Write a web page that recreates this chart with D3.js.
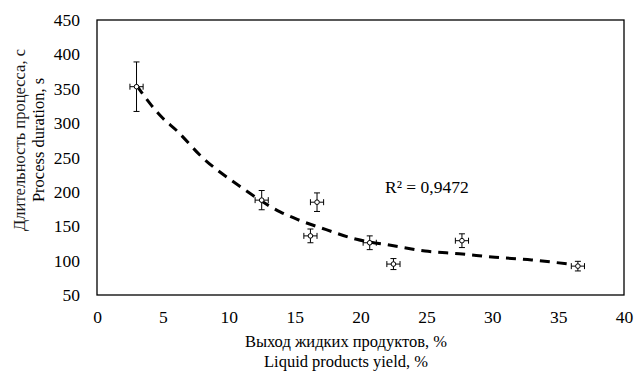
<!DOCTYPE html>
<html><head><meta charset="utf-8">
<script src="https://cdn.jsdelivr.net/npm/d3@7"></script>
<style>body{margin:0;background:#fff;} text{font-family:"Liberation Serif","Times New Roman",serif;}</style>
</head><body><svg id="c" width="635" height="372"></svg>
<script>
// data
const yieldX = [3.0, 12.5, 16.7, 16.2, 20.7, 22.5, 27.7, 36.5];
const durationY = [353, 188, 185, 136, 126, 95, 129, 92];
const errY = [36, 14, 13.5, 10, 10, 8, 10, 7];
const errX = [0.5, 0.5, 0.5, 0.5, 0.5, 0.5, 0.5, 0.5];
const trendX = [3, 4, 5, 6, 8, 10.7, 13.9, 15.2, 17.4, 19.7, 22.4, 24.9, 27.5, 30.2, 33, 35.8];
const trendY = [355, 329, 307, 290, 250, 210, 171, 160, 145, 131, 122, 114, 110, 105, 101, 95];
const xTicks = [0, 5, 10, 15, 20, 25, 30, 35, 40];
const yTicks = [50, 100, 150, 200, 250, 300, 350, 400, 450];
const r2Label = "R² = 0,9472";

const svg = d3.select("#c");
const L = 97, R = 624, T = 20, B = 295;
const x = d3.scaleLinear().domain([0, 40]).range([L, R]);
const y = d3.scaleLinear().domain([50, 450]).range([B, T]);

// axes (labels only)
const xa = svg.append("g").attr("transform", `translate(0,${B})`)
  .call(d3.axisBottom(x).tickValues(xTicks).tickSize(0).tickPadding(16));
xa.select(".domain").remove();
xa.selectAll("text").attr("font-size", 17.5).attr("fill", "#000").style("font-family", "Liberation Serif");
const ya = svg.append("g").attr("transform", `translate(${L},0)`)
  .call(d3.axisLeft(y).tickValues(yTicks).tickSize(0).tickPadding(17));
ya.select(".domain").remove();
ya.selectAll("text").attr("font-size", 17.5).attr("fill", "#000").style("font-family", "Liberation Serif");

// plot frame
svg.append("rect").attr("x", L).attr("y", T).attr("width", R - L).attr("height", B - T)
  .attr("fill", "none").attr("stroke", "#000").attr("stroke-width", 1.3);

// trend line
const pts = trendX.map((d, i) => [d, trendY[i]]);
svg.append("path").datum(pts)
  .attr("d", d3.line().x(d => x(d[0])).y(d => y(d[1])).curve(d3.curveMonotoneX))
  .attr("fill", "none").attr("stroke", "#000").attr("stroke-width", 3)
  .attr("stroke-dasharray", "10,7");

// error bars + points
const g = svg.append("g").attr("stroke", "#000").attr("stroke-width", 1);
yieldX.forEach((xv, i) => {
  const cx = x(xv), cy = y(durationY[i]);
  const y1 = y(durationY[i] + errY[i]), y2 = y(durationY[i] - errY[i]);
  const x1 = x(xv - errX[i]), x2 = x(xv + errX[i]);
  g.append("line").attr("x1", cx).attr("x2", cx).attr("y1", y1).attr("y2", y2);
  g.append("line").attr("x1", cx - 3).attr("x2", cx + 3).attr("y1", y1).attr("y2", y1);
  g.append("line").attr("x1", cx - 3).attr("x2", cx + 3).attr("y1", y2).attr("y2", y2);
  g.append("line").attr("x1", x1).attr("x2", x2).attr("y1", cy).attr("y2", cy);
  g.append("line").attr("x1", x1).attr("x2", x1).attr("y1", cy - 3).attr("y2", cy + 3);
  g.append("line").attr("x1", x2).attr("x2", x2).attr("y1", cy - 3).attr("y2", cy + 3);
  g.append("circle").attr("cx", cx).attr("cy", cy).attr("r", 2.3).attr("fill", "#fff");
});

// R² label
svg.append("text").attr("x", 385).attr("y", 193).attr("font-size", 17.5).text(r2Label);

// axis titles
svg.append("text").attr("x", 346).attr("y", 347).attr("text-anchor", "middle")
  .attr("font-size", 16.5).text("Выход жидких продуктов, %");
svg.append("text").attr("x", 346).attr("y", 367).attr("text-anchor", "middle")
  .attr("font-size", 16.5).text("Liquid products yield, %");
svg.append("text").attr("transform", "translate(25,140) rotate(-90)").attr("text-anchor", "middle")
  .attr("font-size", 16.5).attr("fill", "#1a1a1a").text("Длительность процесса, с");
svg.append("text").attr("transform", "translate(44,140) rotate(-90)").attr("text-anchor", "middle")
  .attr("font-size", 16.5).text("Process duration, s");
</script></body></html>
